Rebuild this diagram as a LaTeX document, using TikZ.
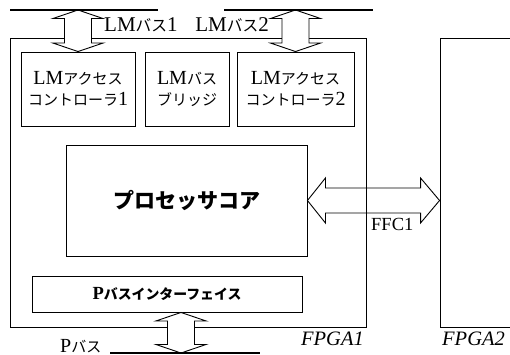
\documentclass[tikz,border=0pt]{standalone}
\usepackage{fontspec}
\setmainfont{Liberation Serif}
\newfontfamily\jp[Scale=0.75]{Noto Sans CJK JP}
\usetikzlibrary{calc}

\tikzset{
  box/.style={draw, line width=0.9pt, inner sep=0pt, align=center},
  bus/.style={line width=2.6pt},
  busarrow/.style={draw, line width=0.9pt, fill=white, line join=miter},
  lbl/.style={inner sep=0pt, font=\fontsize{20}{21}\selectfont},
  fpgalbl/.style={inner sep=0pt, font=\fontsize{20.5}{22}\selectfont\itshape},
}

% vertical double arrow between two points of the same x (top, bottom)
\newcommand\vbusarrow[2]{\path[busarrow] let \p1=(#1), \p2=(#2) in
  (\x1,\y1) -- (\x1+25pt,\y1-8.5pt) -- (\x1+13.5pt,\y1-8.5pt) -- (\x1+13.5pt,\y2+8.5pt)
  -- (\x1+25pt,\y2+8.5pt) -- (\x2,\y2) -- (\x1-25pt,\y2+8.5pt) -- (\x1-13.5pt,\y2+8.5pt)
  -- (\x1-13.5pt,\y1-8.5pt) -- (\x1-25pt,\y1-8.5pt) -- cycle;}
% horizontal double arrow between two points of the same y (left, right)
\newcommand\hbusarrow[2]{\path[busarrow, fill=none] let \p1=(#1), \p2=(#2) in
  (\x1,\y1) -- (\x1+18pt,\y1+22.5pt) -- (\x1+18pt,\y1+12.5pt) -- (\x2-19pt,\y1+12.5pt)
  -- (\x2-19pt,\y1+22.5pt) -- (\x2,\y2) -- (\x2-19pt,\y1-22.5pt) -- (\x2-19pt,\y1-12.5pt)
  -- (\x1+18pt,\y1-12.5pt) -- (\x1+18pt,\y1-22.5pt) -- cycle;}

\begin{document}
\begin{tikzpicture}[x=1pt, y=-1pt]
\useasboundingbox (0,0) rectangle (510,355);
\clip (0,0) rectangle (510,355);

% FPGA boxes
\node[box, minimum width=356pt, minimum height=289pt] (fpga1) at (188,182.5) {};
\node[box, minimum width=100pt, minimum height=289pt] (fpga2) at (490,182.5) {};

% inner blocks
\node[box, lbl, minimum width=114pt, minimum height=74pt] (ctrl1) at (78,89)
  {LM{\jp アクセス}\\{\jp コントローラ}1};
\node[box, lbl, minimum width=84pt, minimum height=74pt] (bridge) at (187,89)
  {LM{\jp バス}\\{\jp ブリッジ}};
\node[box, lbl, minimum width=117pt, minimum height=74pt] (ctrl2) at (295.5,89)
  {LM{\jp アクセス}\\{\jp コントローラ}2};
\node[box, minimum width=241pt, minimum height=111pt,
      font=\fontsize{28}{30}\selectfont\jp\bfseries] (core) at (186.5,200.5) {プロセッサコア};
\node[box, minimum width=270pt, minimum height=36pt,
      font=\fontsize{18.5}{20}\selectfont\bfseries] (pif) at (167,294) {P{\jp バスインターフェイス}};

% bus end points
\coordinate (lm1w) at (10,10);
\coordinate (lm1e) at (158,10);
\coordinate (lm2w) at (224,10);
\coordinate (lm2e) at (373,10);
\coordinate (pbw) at (110,353);
\coordinate (pbe) at (260,353);
\coordinate (ptop) at ($(pif.south)+(14,0)$);

% bus arrows
\vbusarrow{ctrl1.north |- lm1w}{ctrl1.north}
\vbusarrow{ctrl2.north |- lm2w}{ctrl2.north}
\vbusarrow{ptop}{ptop |- pbw}
\hbusarrow{core.east}{core.east -| fpga2.west}

% buses
\draw[bus] (lm1w) -- (lm1e);
\draw[bus] (lm2w) -- (lm2e);
\draw[bus] (pbw) -- (pbe);

% labels
\node[lbl, font=\fontsize{21}{22}\selectfont, anchor=base west] (lm1lbl) at (104,32) {LM{\jp バス}1};
\node[lbl, font=\fontsize{21}{22}\selectfont, anchor=base east] (lm2lbl) at (269,32) {LM{\jp バス}2};
\node[lbl, font=\fontsize{18.5}{20}\selectfont, anchor=base west] (ffclbl) at (371,230) {FFC1};
\node[lbl, anchor=base west] (pbuslbl) at (60,352) {P{\jp バス}};
\node[fpgalbl, anchor=base east] (f1lbl) at (364,345) {FPGA1};
\node[fpgalbl, anchor=base west] (f2lbl) at (442,345) {FPGA2};
\end{tikzpicture}
\end{document}
